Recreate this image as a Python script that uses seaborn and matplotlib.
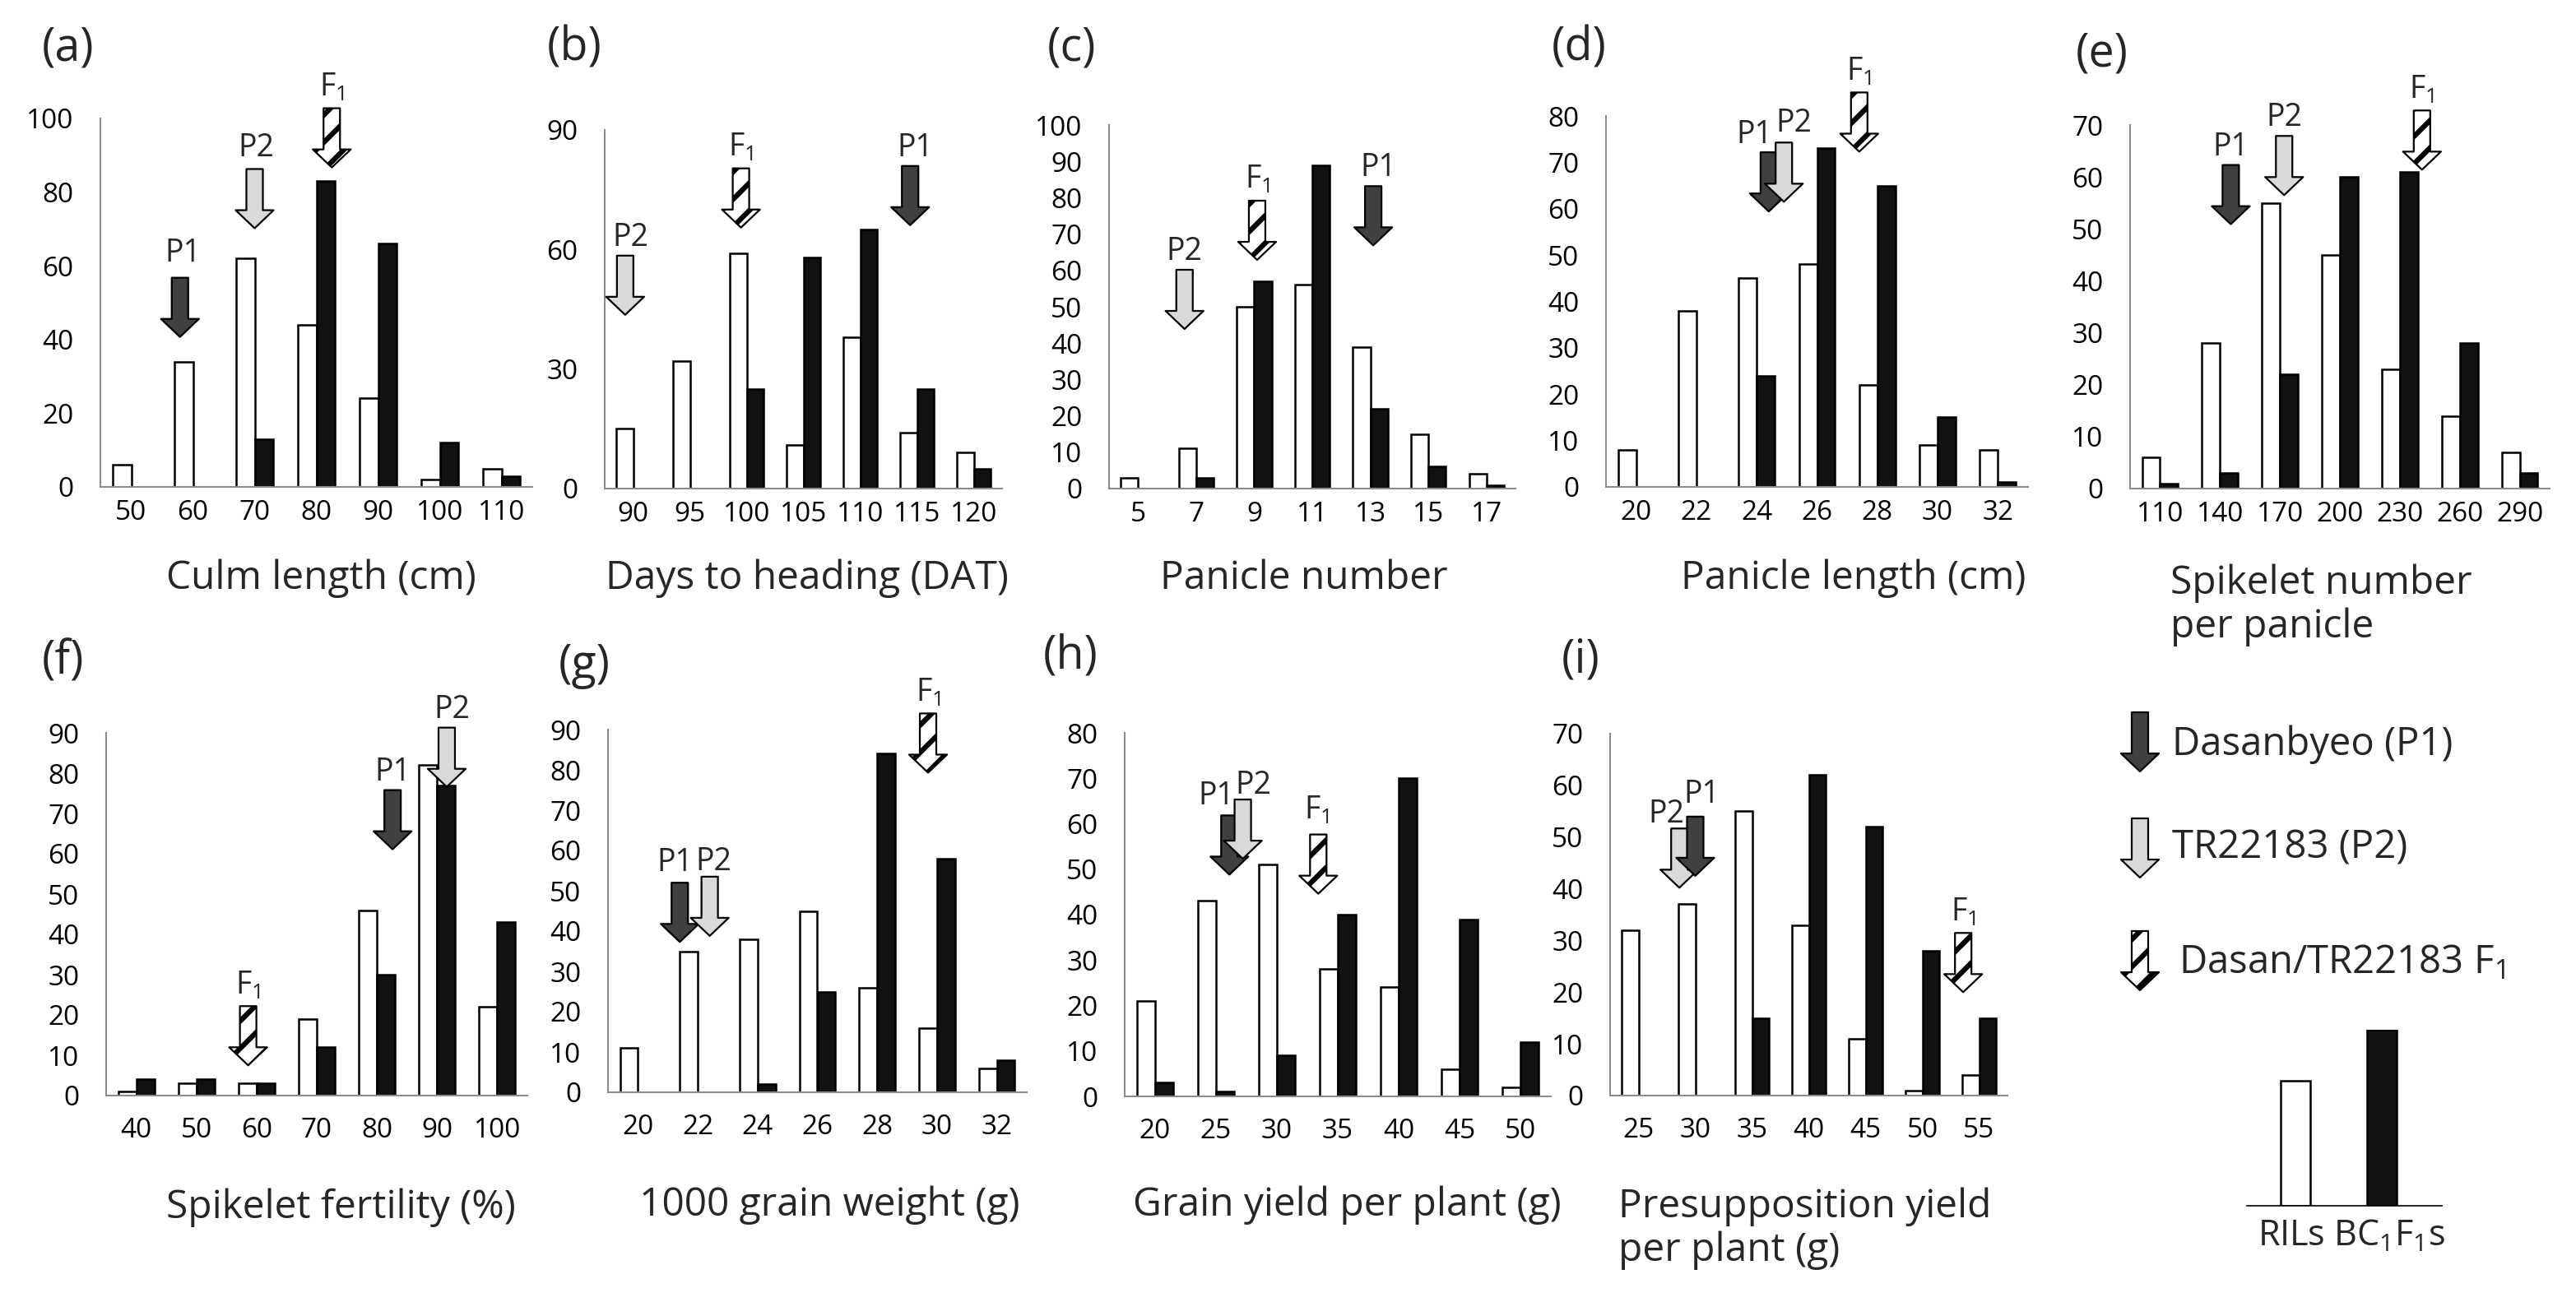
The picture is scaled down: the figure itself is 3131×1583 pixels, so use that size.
import numpy as np
import pandas as pd
import seaborn as sns
import matplotlib.pyplot as plt

# --- Data: frequency distributions, RILs (white) vs BC1F1s (black) ---
culm_bins = [50, 60, 70, 80, 90, 100, 110]
culm_ril = [6, 34, 62, 44, 24, 2, 5]
culm_bc = [0, 0, 13, 83, 66, 12, 3]

heading_bins = [90, 95, 100, 105, 110, 115, 120]
heading_ril = [15, 32, 59, 11, 38, 14, 9]
heading_bc = [0, 0, 25, 58, 65, 25, 5]

pan_no_bins = [5, 7, 9, 11, 13, 15, 17]
pan_no_ril = [3, 11, 50, 56, 39, 15, 4]
pan_no_bc = [0, 3, 57, 89, 22, 6, 1]

pan_len_bins = [20, 22, 24, 26, 28, 30, 32]
pan_len_ril = [8, 38, 45, 48, 22, 9, 8]
pan_len_bc = [0, 0, 24, 73, 65, 15, 1]

spikelet_bins = [110, 140, 170, 200, 230, 260, 290]
spikelet_ril = [6, 28, 55, 45, 23, 14, 7]
spikelet_bc = [1, 3, 22, 60, 61, 28, 3]

fert_bins = [40, 50, 60, 70, 80, 90, 100]
fert_ril = [1, 3, 3, 19, 46, 82, 22]
fert_bc = [4, 4, 3, 12, 30, 77, 43]

gw_bins = [20, 22, 24, 26, 28, 30, 32]
gw_ril = [11, 35, 38, 45, 26, 16, 6]
gw_bc = [0, 0, 2, 25, 84, 58, 8]

yield_bins = [20, 25, 30, 35, 40, 45, 50]
yield_ril = [21, 43, 51, 28, 24, 6, 2]
yield_bc = [3, 1, 9, 40, 70, 39, 12]

presup_bins = [25, 30, 35, 40, 45, 50, 55]
presup_ril = [32, 37, 55, 33, 11, 1, 4]
presup_bc = [0, 0, 15, 62, 52, 28, 15]

# parents / F1 marked by arrows: (line, trait value, arrow tip height)
culm_arrows = [('P1', 57.9, 40.7), ('P2', 70.0, 70.2), ('F1', 82.5, 86.7)]
heading_arrows = [('P2', 89.3, 43.6), ('F1', 99.5, 65.5), ('P1', 114.4, 66.1)]
pan_no_arrows = [('P2', 6.6, 43.9), ('F1', 9.1, 62.9), ('P1', 13.1, 66.9)]
pan_len_arrows = [('P1', 24.4, 59.4), ('P2', 24.9, 61.5), ('F1', 27.4, 72.3)]
spikelet_arrows = [('P1', 145.4, 50.9), ('P2', 172.1, 56.5), ('F1', 241.1, 61.4)]
fert_arrows = [('F1', 58.6, 7.5), ('P1', 82.6, 61.1), ('P2', 91.6, 76.6)]
gw_arrows = [('P1', 21.4, 37.3), ('P2', 22.4, 38.8), ('F1', 29.7, 79.3)]
yield_arrows = [('P1', 26.1, 48.8), ('P2', 27.2, 52.3), ('F1', 33.4, 44.6)]
presup_arrows = [('P2', 28.6, 40.2), ('P1', 30.0, 42.5), ('F1', 53.6, 20.0)]

legend_groups = ['RILs', 'BC1F1s']
legend_heights = [0.71, 1.0]

# --- Style ---
sns.set_theme(style='white')
plt.rcParams['font.family'] = ['Open Sans', 'DejaVu Sans']
plt.rcParams['mathtext.default'] = 'regular'
plt.rcParams['hatch.linewidth'] = 4.5

W, H = 3131, 1583
PT = 0.72  # points per pixel at dpi 100
AXIS_GRAY = '#8c8c8c'
ARROW_LEN = 72 * PT
ARROW_STYLE = 'simple,head_length=0.79,head_width=1.66,tail_width=0.72'
arrow_fill = {'P1': '#404040', 'P2': '#d9d9d9', 'F1': 'white'}
arrow_text = {'P1': 'P1', 'P2': 'P2', 'F1': '$F_1$'}
bar_colors = {'RILs': 'white', 'BC1F1s': '#111111'}


def rect(x0, x1, ytop, ybot):
    return [x0 / W, 1 - ybot / H, (x1 - x0) / W, (ybot - ytop) / H]


def draw_arrow(ax, xy, kind):
    ax.annotate('', xy=xy, xytext=(0, ARROW_LEN), textcoords='offset points',
                annotation_clip=False,
                arrowprops=dict(arrowstyle=ARROW_STYLE, mutation_scale=20,
                                shrinkA=0, shrinkB=0, fc=arrow_fill[kind], ec='black',
                                lw=1.6, hatch='/' if kind == 'F1' else None))


# key, xlabel, bins, ril, bc, arrows, ymax, ystep, axes rect (px), panel-label pos, xlabel pos, row
panels = [
    ('a', 'Culm length (cm)', culm_bins, culm_ril, culm_bc, culm_arrows, 100, 20,
     (122, 647, 144, 592), (51, 59), (390, 703), 1),
    ('b', 'Days to heading (DAT)', heading_bins, heading_ril, heading_bc, heading_arrows, 90, 30,
     (735, 1218, 158, 594), (665, 59), (981, 703), 1),
    ('c', 'Panicle number', pan_no_bins, pan_no_ril, pan_no_bc, pan_no_arrows, 100, 10,
     (1348, 1842, 152, 594), (1273, 59), (1585, 703), 1),
    ('d', 'Panicle length (cm)', pan_len_bins, pan_len_ril, pan_len_bc, pan_len_arrows, 80, 10,
     (1952, 2465, 141, 592), (1886, 59), (2253, 703), 1),
    ('e', 'Spikelet number\nper panicle', spikelet_bins, spikelet_ril, spikelet_bc, spikelet_arrows, 70, 10,
     (2589, 3099, 152, 594), (2523, 66), (2638, 736), 1),
    ('f', 'Spikelet fertility (%)', fert_bins, fert_ril, fert_bc, fert_arrows, 90, 10,
     (129, 641, 891, 1332), (51, 805), (414, 1468), 2),
    ('g', '1000 grain weight (g)', gw_bins, gw_ril, gw_bc, gw_arrows, 90, 10,
     (739, 1248, 887, 1328), (679, 809), (1008, 1465), 2),
    ('h', 'Grain yield per plant (g)', yield_bins, yield_ril, yield_bc, yield_arrows, 80, 10,
     (1367, 1885, 891, 1333), (1268, 798), (1637, 1465), 2),
    ('i', 'Presupposition yield\nper plant (g)', presup_bins, presup_ril, presup_bc, presup_arrows, 70, 10,
     (1957, 2440, 892, 1332), (1898, 803), (1967, 1494), 2),
]

# label nudges (px): (dx, extra gap)
label_shift = {
    ('a', 'P1'): (4, 8), ('a', 'P2'): (2, 4),
    ('b', 'P2'): (6, 0), ('b', 'P1'): (6, 0),
    ('c', 'P1'): (6, 0),
    ('d', 'P1'): (-18, -1), ('d', 'P2'): (12, 1),
    ('f', 'P2'): (6, 0),
    ('g', 'P1'): (-6, 2), ('g', 'P2'): (5, -4),
    ('h', 'P1'): (-16, 1), ('h', 'P2'): (13, -5), ('h', 'F1'): (-2, 4),
    ('i', 'P2'): (-16, -5), ('i', 'P1'): (8, 5),
}

fig = plt.figure(figsize=(W / 100, H / 100), dpi=100)

for (key, xlabel, bins, ril, bc, arrows, ymax, ystep,
     (x0, x1, ytop, ybot), (plx, ply), (xlx, xly), row) in panels:
    ax = fig.add_axes(rect(x0, x1, ytop, ybot))
    df = pd.DataFrame({
        'bin': bins + bins,
        'group': ['RILs'] * len(bins) + ['BC1F1s'] * len(bins),
        'count': ril + bc,
    })
    sns.barplot(data=df, x='bin', y='count', hue='group', order=bins,
                hue_order=['RILs', 'BC1F1s'], palette=bar_colors,
                edgecolor='black', linewidth=1.8, width=0.6, gap=0,
                errorbar=None, legend=False, ax=ax)
    for p in ax.patches:
        if p.get_height() == 0:
            p.set_linewidth(0)

    ax.set_xlim(-0.5, len(bins) - 0.5)
    ax.set_ylim(0, ymax)
    ax.set_yticks(np.arange(0, ymax + 1, ystep))
    ax.set_xlabel('')
    ax.set_ylabel('')
    sns.despine(ax=ax)
    for s in ['left', 'bottom']:
        ax.spines[s].set_color(AXIS_GRAY)
        ax.spines[s].set_linewidth(1.5)
    ax.tick_params(axis='y', length=9.4, width=1.5, color=AXIS_GRAY,
                   labelsize=24, pad=14, labelcolor='black')
    ax.tick_params(axis='x', length=0, labelsize=24,
                   pad=11 if row == 1 else 19, labelcolor='black')

    step = bins[1] - bins[0]
    for kind, val, tip in arrows:
        xi = (val - bins[0]) / step
        draw_arrow(ax, (xi, tip), kind)
        dx, dgap = label_shift.get((key, kind), (0, 0))
        gap = (15 if kind == 'F1' else 12) + dgap
        ax.annotate(arrow_text[kind], xy=(xi, tip),
                    xytext=(dx * PT, ARROW_LEN + gap * PT), textcoords='offset points',
                    ha='center', va='baseline', fontsize=27, annotation_clip=False)

    fig.text(plx / W, 1 - ply / H, f'({key})', fontsize=40, ha='left', va='center')
    if '\n' in xlabel:
        fig.text(xlx / W, 1 - xly / H, xlabel, fontsize=34.5, ha='left', va='center',
                 linespacing=1.15)
    else:
        fig.text(xlx / W, 1 - xly / H, xlabel, fontsize=34.5, ha='center', va='center')

# --- Legend panel ---
canvas = fig.add_axes([0, 0, 1, 1])
canvas.set_xlim(0, W)
canvas.set_ylim(H, 0)
canvas.axis('off')
legend_items = [('P1', 938, 'Dasanbyeo (P1)', 2640, 905),
                ('P2', 1067, 'TR22183 (P2)', 2640, 1031),
                ('F1', 1204, 'Dasan/TR22183 $F_1$', 2648, 1170)]
for kind, tip, text, tx, ty in legend_items:
    draw_arrow(canvas, (2601, tip), kind)
    canvas.text(tx, ty, text, fontsize=34, ha='left', va='center')

lax = fig.add_axes(rect(2731, 2968, 1252, 1466))
sns.barplot(x=legend_groups, y=legend_heights, hue=legend_groups, palette=bar_colors,
            edgecolor='black', linewidth=1.8, width=0.34, legend=False, ax=lax)
lax.set_xlim(-0.56, 1.69)
lax.set_ylim(0, 1.0)
lax.set_yticks([])
lax.set_xticks([])
sns.despine(ax=lax, left=True)
lax.spines['bottom'].set_color('black')
lax.spines['bottom'].set_linewidth(1.2)
canvas.text(2858, 1504, 'RILs BC$_1$F$_1$s', fontsize=31, ha='center', va='center')

fig.savefig('out.png', dpi=100)
